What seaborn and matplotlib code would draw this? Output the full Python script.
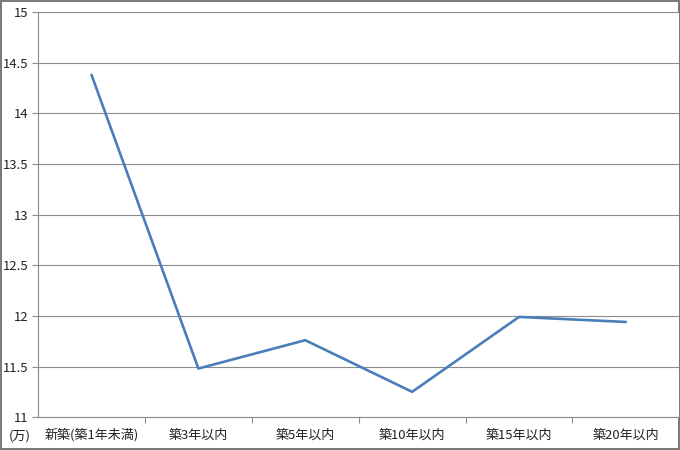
import matplotlib
matplotlib.use("Agg")
import matplotlib.pyplot as plt
import matplotlib.ticker as ticker
import seaborn as sns
import numpy as np

# 01. Dados
categorias = ["新築(築1年未満)", "築3年以内", "築5年以内", "築10年以内", "築15年以内", "築20年以内"]
valores = [14.38, 11.48, 11.76, 11.25, 11.99, 11.94]
ticks_y = [11, 11.5, 12, 12.5, 13, 13.5, 14, 14.5, 15]

# 02. Tema
sns.set_theme(style="white")
plt.rcParams['font.family'] = ['Noto Sans CJK JP', 'DejaVu Sans']

# 03. Gráfico
fig = plt.figure(figsize=(6.8, 4.5), dpi=100, edgecolor='#7a7a7a', linewidth=1.6)
ax = fig.add_axes([0.056, 0.073, 0.943, 0.9])

x = np.arange(len(categorias))
sns.lineplot(x=x, y=valores, color="#4a7ebb", linewidth=1.9, ax=ax)

ax.set_xlim(-0.5, len(categorias) - 0.5)
ax.set_ylim(11, 15)

# 04. Eixos
ax.set_yticks(ticks_y)
ax.yaxis.set_major_formatter(ticker.FuncFormatter(lambda v, pos: f"{v:g}"))
ax.yaxis.grid(True, color='#8c8c8c', linewidth=0.8)
ax.set_axisbelow(True)

ax.set_xticks(x)
ax.set_xticklabels(categorias)
ax.xaxis.set_minor_locator(ticker.FixedLocator(np.arange(0.5, len(categorias) - 0.5, 1)))
ax.tick_params(axis='x', which='major', length=0, pad=8, labelsize=9.4, labelcolor='#222222')
ax.tick_params(axis='x', which='minor', length=4, width=0.8, color='#8c8c8c', direction='out', bottom=True)
ax.tick_params(axis='y', which='major', length=4, width=0.8, color='#8c8c8c', direction='out', left=True,
               labelsize=9.4, labelcolor='#222222', pad=3)

for lado in ['top', 'right']:
    ax.spines[lado].set_visible(False)
for lado in ['left', 'bottom']:
    ax.spines[lado].set_color('#8c8c8c')
    ax.spines[lado].set_linewidth(0.8)

fig.text(20 / 680, 1 - 436 / 450, "(万)", fontsize=9.4, color='#222222', ha='center', va='center')

# 05. Imagem
fig.savefig("out.png", dpi=100)
